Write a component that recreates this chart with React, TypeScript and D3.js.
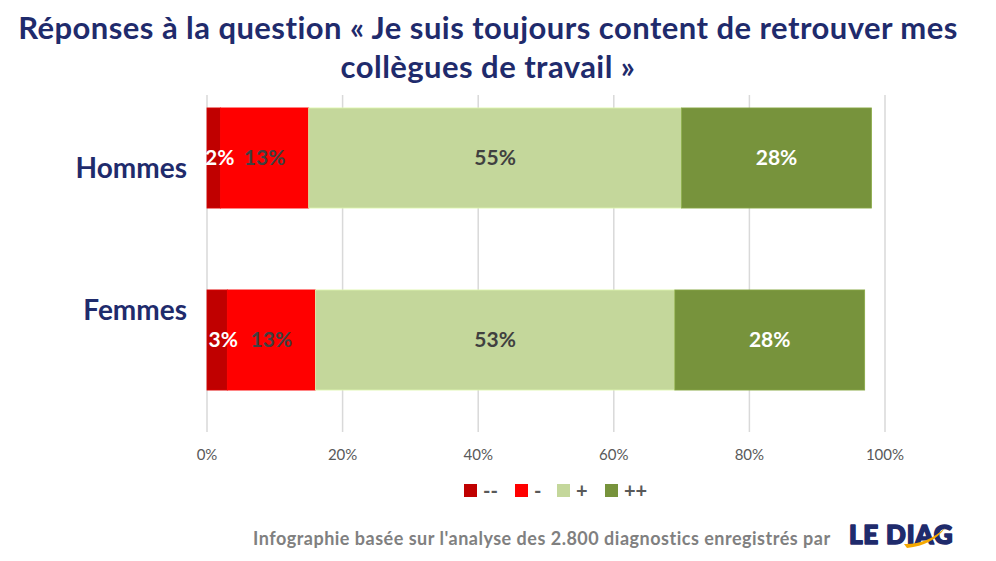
import React from 'react';
import * as d3 from 'd3';

// Réponses par genre (en %)
const categories = ['Hommes', 'Femmes'];
const answers = ['--', '-', '+', '++'];
const tresNegatif = [2, 3];
const negatif = [13, 13];
const positif = [55, 53];
const tresPositif = [28, 28];
const ticks = [0, 20, 40, 60, 80, 100];

const colors = ['#c00000', '#ff0000', '#c4d79b', '#77933c'];
const labelColors = ['#ffffff', '#404040', '#404040', '#ffffff'];
const navy = '#1f2b6c';

const width = 996;
const height = 561;

const App = () => {
  const rows = categories.map((c, i) => ({
    category: c,
    '--': tresNegatif[i],
    '-': negatif[i],
    '+': positif[i],
    '++': tresPositif[i],
  }));

  const stack = d3.stack<any>().keys(answers);
  const series = stack(rows);

  const x = d3.scaleLinear().domain([0, 100]).range([207, 885]);
  const y = d3.scaleBand().domain(categories).range([67, 431]).paddingInner(0.45).paddingOuter(0.225);

  // les libellés de catégories ne sont pas centrés sur les barres
  const labelBaseline: Record<string, number> = { Hommes: 178, Femmes: 320 };

  const font = 'Lato, "Open Sans", sans-serif';

  return (
    <svg width={width} height={height} style={{ position: 'absolute', left: 0, top: 0, background: '#fff' }}>
      <g fontFamily={font}>
        <text x={488} y={39} textAnchor="middle" fontSize={31} fontWeight={700} fill={navy} letterSpacing={0.45}>
          Réponses à la question « Je suis toujours content de retrouver mes
        </text>
        <text x={488} y={78} textAnchor="middle" fontSize={31} fontWeight={700} fill={navy} letterSpacing={0.45}>
          collègues de travail »
        </text>

        {ticks.map((t) => (
          <g key={t}>
            <line x1={x(t)} x2={x(t)} y1={95} y2={432} stroke="#d9d9d9" strokeWidth={1.5} />
            <text x={x(t)} y={460} textAnchor="middle" fontSize={15} fill="#595959">
              {t}%
            </text>
          </g>
        ))}

        {series.map((s, si) => (
          <g key={s.key}>
            {s.map((d, di) => {
              const cat = categories[di];
              const x0 = x(d[0]);
              const x1 = x(d[1]);
              return (
                <rect key={cat} x={x0} y={y(cat)!} width={x1 - x0} height={y.bandwidth()} fill={colors[si]}
                  stroke={d3.color(colors[si])!.brighter(0.4).toString()} strokeWidth={0.8} />
              );
            })}
          </g>
        ))}

        {series.map((s, si) => (
          <g key={s.key + '-lbl'}>
            {s.map((d, di) => {
              const cat = categories[di];
              const x0 = x(d[0]);
              const x1 = x(d[1]);
              return (
                <text key={cat} x={(x0 + x1) / 2 + (si === 0 ? 6 : 0)} y={y(cat)! + y.bandwidth() / 2} dy="0.35em"
                  textAnchor="middle" fontSize={21} fontWeight={700} fill={labelColors[si]}>
                  {d[1] - d[0]}%
                </text>
              );
            })}
          </g>
        ))}

        {categories.map((c) => (
          <text key={c} x={187} y={labelBaseline[c]} textAnchor="end"
            fontSize={28} fontWeight={700} fill={navy}>
            {c}
          </text>
        ))}

        {answers.map((a, i) => {
          const lx = [464, 515, 557, 605][i];
          return (
            <g key={a}>
              <rect x={lx} y={484} width={13} height={13} fill={colors[i]} />
              <text x={lx + 19} y={491} dy="0.35em" fontSize={20} fontWeight={700} fill="#595959">
                {a}
              </text>
            </g>
          );
        })}

        <text x={253} y={545} fontSize={18} fontWeight={700} fill="#808080" letterSpacing={0.5}>
          Infographie basée sur l'analyse des 2.800 diagnostics enregistrés  par
        </text>
        <g>
          <text x={849} y={544} fontSize={26} fontWeight={900} fill={navy} stroke={navy} strokeWidth={1.6}
            strokeLinejoin="round" letterSpacing={0.8}>
            LE DIAG
          </text>
          <path d="M 904 544 Q 926 545 945 528 Q 933 545 907 548 Z" fill="#f5a800" />
        </g>
      </g>
    </svg>
  );
};

export default App;
